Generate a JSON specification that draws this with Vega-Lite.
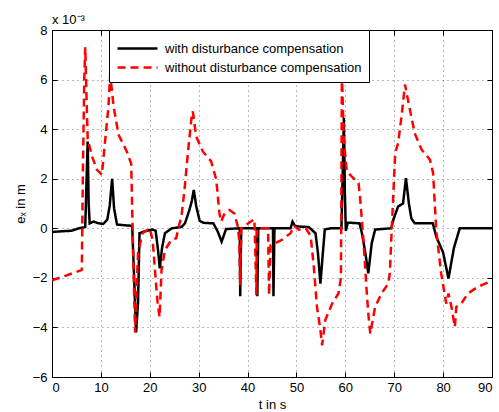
{
  "$schema": "https://vega.github.io/schema/vega-lite/v6.json",
  "width": 440,
  "height": 347,
  "autosize": "none",
  "padding": {"left": 52, "top": 30, "right": 7, "bottom": 35},
  "background": "white",
  "title": {"text": "x 10⁻³", "anchor": "start", "frame": "group", "fontSize": 13, "fontWeight": "normal", "font": "Liberation Sans", "color": "black", "offset": -3},
  "config": {
    "font": "Liberation Sans",
    "view": {"stroke": "black", "strokeWidth": 1},
    "axis": {
      "domainColor": "black",
      "tickColor": "black",
      "tickSize": -5,
      "labelColor": "black",
      "labelFontSize": 13,
      "titleFontSize": 13,
      "titleFontWeight": "normal",
      "titleColor": "black",
      "gridColor": "#000000",
      "gridOpacity": 0.55,
      "gridDash": [1, 4],
      "gridWidth": 1
    },
    "legend": {
      "orient": "none",
      "legendX": 57,
      "legendY": 0,
      "fillColor": "white",
      "strokeColor": "black",
      "padding": 7,
      "labelFontSize": 13,
      "labelColor": "black",
      "labelLimit": 0,
      "symbolType": "M-1,0H3",
      "symbolSize": 400,
      "symbolStrokeWidth": 2.5,
      "rowPadding": 0,
      "labelOffset": 26,
      "title": null
    }
  },
  "datasets": {
    "with": [
      {"t": 0, "v": -0.15}, {"t": 2, "v": -0.12}, {"t": 4, "v": -0.1}, {"t": 5.5, "v": 0.0}, {"t": 6.8, "v": 0.05},
      {"t": 7.0, "v": 1.5}, {"t": 7.3, "v": 3.5}, {"t": 7.5, "v": 1.0}, {"t": 7.7, "v": 0.2}, {"t": 8.5, "v": 0.27},
      {"t": 9.5, "v": 0.2}, {"t": 10.5, "v": 0.18}, {"t": 11.3, "v": 0.35}, {"t": 11.8, "v": 0.9}, {"t": 12.3, "v": 2.0},
      {"t": 12.7, "v": 0.8}, {"t": 13.3, "v": 0.15}, {"t": 15, "v": 0.12}, {"t": 16.4, "v": 0.1}, {"t": 16.8, "v": -2.0},
      {"t": 17.2, "v": -4.2}, {"t": 17.6, "v": -3.0}, {"t": 17.9, "v": -0.2}, {"t": 19, "v": -0.12}, {"t": 20.5, "v": -0.05},
      {"t": 21.2, "v": -0.1}, {"t": 21.7, "v": -0.9}, {"t": 22.05, "v": -1.62}, {"t": 22.5, "v": -0.8}, {"t": 23.1, "v": -0.2},
      {"t": 24.5, "v": 0.0}, {"t": 26.5, "v": 0.05}, {"t": 27.2, "v": 0.2}, {"t": 28.1, "v": 0.74}, {"t": 28.6, "v": 1.1},
      {"t": 29.0, "v": 1.55}, {"t": 29.5, "v": 0.9}, {"t": 30.2, "v": 0.3}, {"t": 31, "v": 0.22}, {"t": 33, "v": 0.2},
      {"t": 33.9, "v": -0.13}, {"t": 34.7, "v": -0.54}, {"t": 35.6, "v": -0.03}, {"t": 38.4, "v": 0.0}, {"t": 38.5, "v": -2.74},
      {"t": 38.7, "v": 0.0}, {"t": 41.9, "v": 0.0}, {"t": 42.0, "v": -2.74}, {"t": 42.2, "v": 0.0}, {"t": 45.2, "v": 0.0},
      {"t": 45.3, "v": -2.74}, {"t": 45.5, "v": 0.0}, {"t": 48.8, "v": 0.0}, {"t": 49.2, "v": 0.27}, {"t": 49.7, "v": 0.1},
      {"t": 50.5, "v": 0.07}, {"t": 52.5, "v": 0.05}, {"t": 53.9, "v": -0.2}, {"t": 54.4, "v": -1.0}, {"t": 54.9, "v": -2.23},
      {"t": 55.4, "v": -1.0}, {"t": 55.8, "v": -0.05}, {"t": 57, "v": 0.0}, {"t": 59.2, "v": 0.0}, {"t": 59.5, "v": 2.5},
      {"t": 59.7, "v": 4.45}, {"t": 59.9, "v": 1.5}, {"t": 60.1, "v": -0.1}, {"t": 60.5, "v": 0.23}, {"t": 62.9, "v": 0.2},
      {"t": 63.4, "v": -0.2}, {"t": 64.1, "v": -1.0}, {"t": 64.7, "v": -1.82}, {"t": 65.4, "v": -0.6}, {"t": 66.1, "v": -0.05},
      {"t": 69.4, "v": 0.0}, {"t": 69.8, "v": 0.34}, {"t": 70.8, "v": 0.88}, {"t": 71.8, "v": 1.0}, {"t": 72.4, "v": 2.02},
      {"t": 73.0, "v": 1.0}, {"t": 73.5, "v": 0.4}, {"t": 74.2, "v": 0.2}, {"t": 77.9, "v": 0.2}, {"t": 78.6, "v": -0.34},
      {"t": 80.0, "v": -0.98}, {"t": 81.1, "v": -2.03}, {"t": 82.2, "v": -0.8}, {"t": 83.4, "v": 0.0}, {"t": 90, "v": 0.0}
    ],
    "without": [
      {"t": 0, "v": -2.1}, {"t": 3, "v": -1.9}, {"t": 6.1, "v": -1.68}, {"t": 6.3, "v": 2.0}, {"t": 6.6, "v": 6.0},
      {"t": 6.8, "v": 7.3}, {"t": 7.1, "v": 5.0}, {"t": 7.3, "v": 3.6}, {"t": 8.2, "v": 2.9}, {"t": 9.2, "v": 2.36},
      {"t": 10.2, "v": 2.16}, {"t": 10.9, "v": 3.6}, {"t": 11.55, "v": 4.92}, {"t": 11.9, "v": 6.2}, {"t": 12.6, "v": 4.92},
      {"t": 13.6, "v": 3.78}, {"t": 15.3, "v": 3.1}, {"t": 16.2, "v": 2.6}, {"t": 16.6, "v": -1.0}, {"t": 17.0, "v": -4.2},
      {"t": 17.3, "v": -2.5}, {"t": 17.6, "v": -1.0}, {"t": 18.5, "v": -0.2}, {"t": 20.0, "v": 0.0}, {"t": 20.6, "v": -0.5},
      {"t": 21.0, "v": -1.55}, {"t": 21.6, "v": -3.0}, {"t": 22.0, "v": -3.58}, {"t": 22.4, "v": -1.7}, {"t": 23.1, "v": -0.88},
      {"t": 24.4, "v": -0.47}, {"t": 25.4, "v": -0.4}, {"t": 26.1, "v": 0.2}, {"t": 26.5, "v": 0.5}, {"t": 27.1, "v": 1.55},
      {"t": 27.8, "v": 3.04}, {"t": 28.5, "v": 4.4}, {"t": 28.8, "v": 4.72}, {"t": 29.5, "v": 3.7}, {"t": 30.85, "v": 3.1},
      {"t": 32.55, "v": 2.7}, {"t": 33.6, "v": 1.96}, {"t": 34.25, "v": 0.6}, {"t": 34.6, "v": 0.27}, {"t": 35.3, "v": 0.6},
      {"t": 36.3, "v": 0.74}, {"t": 37.3, "v": 0.6}, {"t": 38.0, "v": 0.07}, {"t": 38.3, "v": -0.5}, {"t": 38.5, "v": -2.3},
      {"t": 38.7, "v": 0.0}, {"t": 41.4, "v": 0.37}, {"t": 41.6, "v": -1.0}, {"t": 41.8, "v": -2.7}, {"t": 41.95, "v": 0.0},
      {"t": 44.2, "v": 0.0}, {"t": 44.4, "v": -2.7}, {"t": 44.7, "v": -0.7}, {"t": 47.0, "v": -0.47}, {"t": 48.8, "v": -0.2},
      {"t": 49.5, "v": 0.1}, {"t": 50.5, "v": -0.06}, {"t": 51.9, "v": 0.0}, {"t": 52.9, "v": -0.3}, {"t": 53.55, "v": -1.55},
      {"t": 54.2, "v": -3.17}, {"t": 54.9, "v": -4.1}, {"t": 55.25, "v": -4.72}, {"t": 55.9, "v": -3.7}, {"t": 57.3, "v": -3.04},
      {"t": 58.6, "v": -2.63}, {"t": 59.1, "v": -2.0}, {"t": 59.2, "v": 2.0}, {"t": 59.3, "v": 6.2}, {"t": 59.7, "v": 3.57},
      {"t": 60.3, "v": 2.3}, {"t": 61.3, "v": 2.09}, {"t": 62.7, "v": 1.82}, {"t": 63.0, "v": 1.28}, {"t": 63.7, "v": -0.47},
      {"t": 64.4, "v": -2.63}, {"t": 64.7, "v": -3.44}, {"t": 65.1, "v": -4.25}, {"t": 66.1, "v": -3.17}, {"t": 67.4, "v": -2.63},
      {"t": 68.8, "v": -2.23}, {"t": 69.1, "v": -1.8}, {"t": 69.5, "v": 0.0}, {"t": 70.2, "v": 3.04}, {"t": 70.8, "v": 3.44},
      {"t": 71.5, "v": 4.52}, {"t": 72.2, "v": 5.8}, {"t": 73.2, "v": 4.79}, {"t": 74.2, "v": 3.83}, {"t": 75.6, "v": 3.17},
      {"t": 77.3, "v": 2.77}, {"t": 77.95, "v": 2.23}, {"t": 78.6, "v": -0.1}, {"t": 79.6, "v": -1.82}, {"t": 80.65, "v": -3.04},
      {"t": 81.1, "v": -2.63}, {"t": 81.7, "v": -3.17}, {"t": 82.4, "v": -3.98}, {"t": 82.7, "v": -3.17}, {"t": 83.7, "v": -3.04},
      {"t": 85.1, "v": -2.63}, {"t": 87.1, "v": -2.36}, {"t": 89.5, "v": -2.16}, {"t": 90, "v": -2.12}
    ]
  },
  "resolve": {"axis": {"x": "independent", "y": "independent"}},
  "layer": [
    {
      "data": {"name": "with"},
      "mark": {"type": "line", "strokeWidth": 2.5, "clip": true},
      "encoding": {
        "x": {"field": "t", "type": "quantitative",
              "scale": {"domain": [0, 90], "nice": false, "zero": false},
              "axis": {"orient": "bottom", "values": [0, 10, 20, 30, 40, 50, 60, 70, 80, 90], "grid": true, "labelPadding": 9, "title": "t in s", "titlePadding": 4}},
        "y": {"field": "v", "type": "quantitative",
              "scale": {"domain": [-6, 8], "nice": false, "zero": false},
              "axis": {"orient": "left", "values": [-6, -4, -2, 0, 2, 4, 6, 8], "grid": true, "labelPadding": 10, "title": "eₓ in m", "titlePadding": 5}},
        "color": {"datum": "with disturbance compensation", "type": "nominal",
                  "scale": {"domain": ["with disturbance compensation", "without disturbance compensation"], "range": ["#000000", "#ff0000"]},
                  "legend": {"title": null}},
        "strokeDash": {"datum": "with disturbance compensation", "type": "nominal",
                  "scale": {"domain": ["with disturbance compensation", "without disturbance compensation"], "range": [[1, 0], [8, 5]]},
                  "legend": {"title": null}}
      }
    },
    {
      "data": {"name": "without"},
      "mark": {"type": "line", "strokeWidth": 2.5, "clip": true},
      "encoding": {
        "x": {"field": "t", "type": "quantitative",
              "axis": {"orient": "top", "values": [0, 10, 20, 30, 40, 50, 60, 70, 80, 90], "grid": false, "labels": false, "title": null}},
        "y": {"field": "v", "type": "quantitative",
              "axis": {"orient": "right", "values": [-6, -4, -2, 0, 2, 4, 6, 8], "grid": false, "labels": false, "title": null}},
        "color": {"datum": "without disturbance compensation", "type": "nominal"},
        "strokeDash": {"datum": "without disturbance compensation", "type": "nominal"}
      }
    }
  ]
}
